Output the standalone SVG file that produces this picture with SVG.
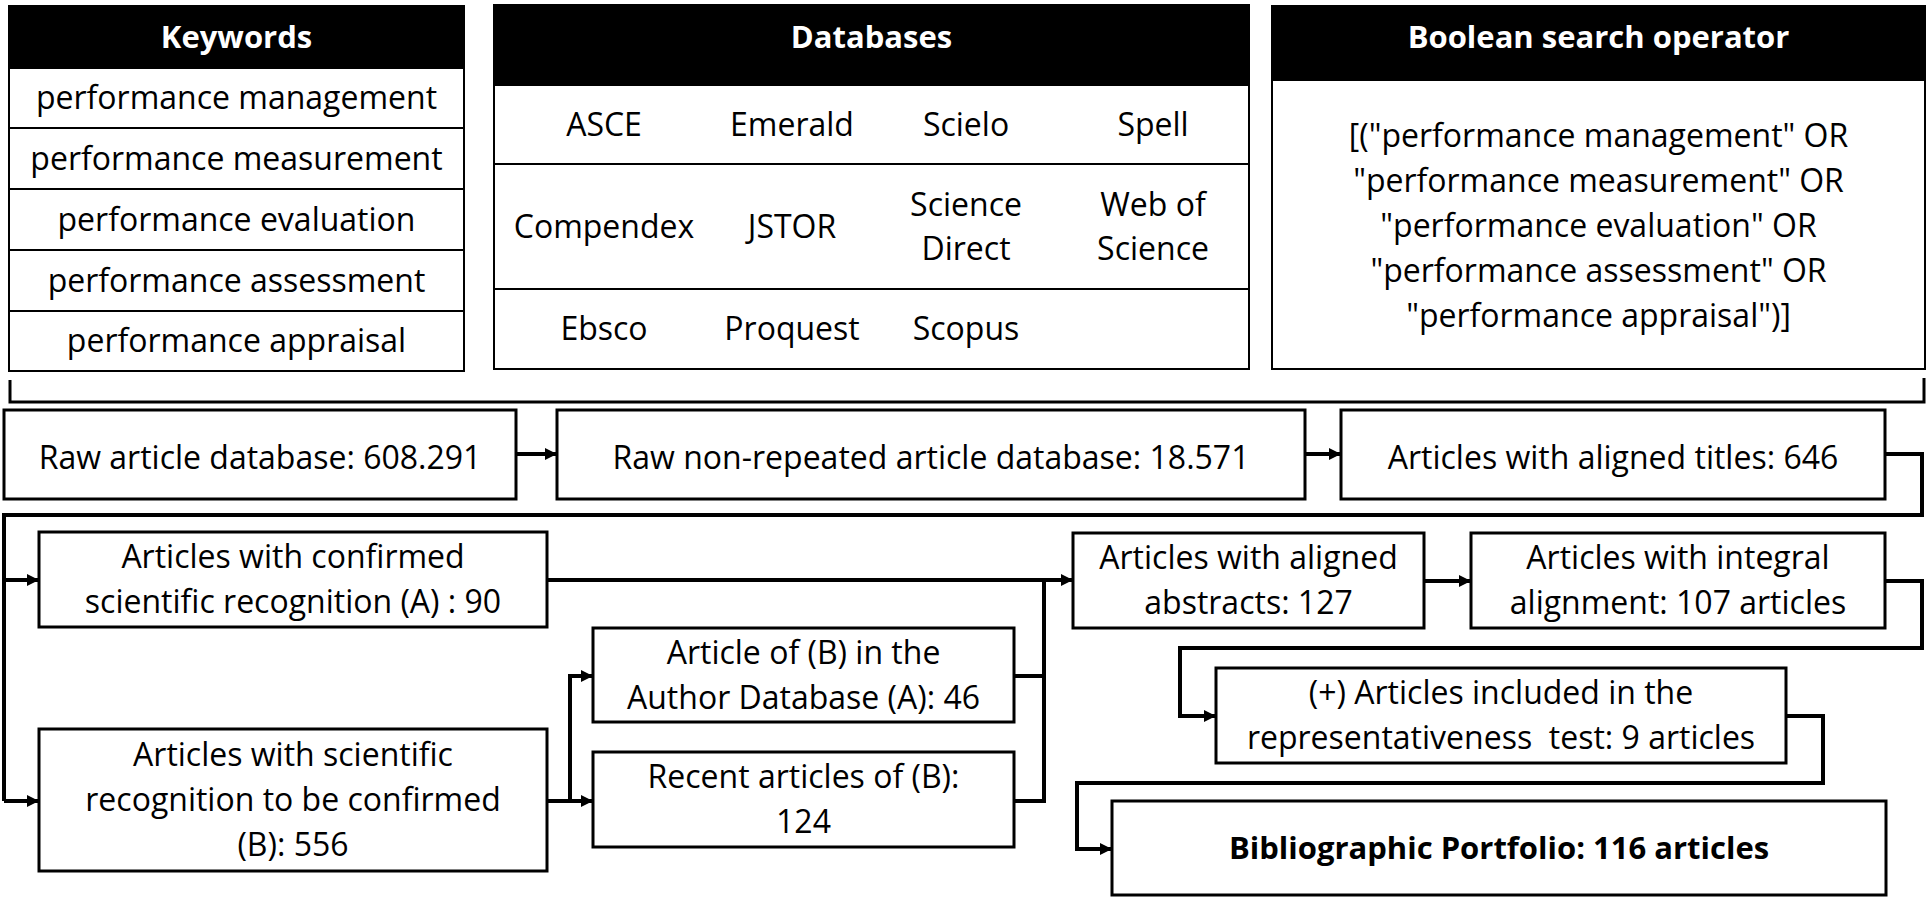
<svg xmlns="http://www.w3.org/2000/svg" width="1928" height="897" viewBox="0 0 1928 897">
<style>
  text { font-family: "Open Sans", "Liberation Sans", sans-serif; font-size: 32px; fill: #000; text-anchor: middle; }
  .hd { font-weight: bold; fill: #fff; font-size: 31px; }
  .bold { font-weight: bold; font-size: 31px; }
  .tbl { fill: #fff; stroke: #000; stroke-width: 2; }
  .hdr { fill: #000; stroke: #000; stroke-width: 2; }
  .sep { stroke: #000; stroke-width: 2; fill: none; }
  .box { fill: #fff; stroke: #000; stroke-width: 3; }
  .con { fill: none; stroke: #000; stroke-width: 4; }
  .arr { fill: none; stroke: #000; stroke-width: 4; marker-end: url(#ah); }
</style>
<defs>
  <marker id="ah" markerUnits="userSpaceOnUse" markerWidth="14" markerHeight="14" refX="12" refY="7" orient="auto">
    <path d="M0,1 L12,7 L0,13 Z" fill="#000"/>
  </marker>
</defs>
<rect width="1928" height="897" fill="#fff"/>

<g id="keywords">
  <rect class="tbl" x="9" y="6" width="455" height="365"/>
  <rect class="hdr" x="9" y="6" width="455" height="62"/>
  <text class="hd" x="236.5" y="48">Keywords</text>
  <path class="sep" d="M9,128 H464 M9,189 H464 M9,250 H464 M9,311 H464"/>
  <text x="236.5" y="109">performance management</text>
  <text x="236.5" y="170">performance measurement</text>
  <text x="236.5" y="231">performance evaluation</text>
  <text x="236.5" y="292">performance assessment</text>
  <text x="236.5" y="352">performance appraisal</text>
</g>

<g id="databases">
  <rect class="tbl" x="494" y="5" width="755" height="364"/>
  <rect class="hdr" x="494" y="5" width="755" height="80"/>
  <text class="hd" x="871.5" y="48">Databases</text>
  <path class="sep" d="M494,164 H1249 M494,289 H1249"/>
  <text x="604" y="136">ASCE</text>
  <text x="792" y="136">Emerald</text>
  <text x="966" y="136">Scielo</text>
  <text x="1153" y="136">Spell</text>
  <text x="604" y="238">Compendex</text>
  <text x="792" y="238">JSTOR</text>
  <text x="966" y="216">Science</text>
  <text x="966" y="260">Direct</text>
  <text x="1153" y="216">Web of</text>
  <text x="1153" y="260">Science</text>
  <text x="604" y="340">Ebsco</text>
  <text x="792" y="340">Proquest</text>
  <text x="966" y="340">Scopus</text>
</g>

<g id="boolean">
  <rect class="tbl" x="1272" y="6" width="653" height="363"/>
  <rect class="hdr" x="1272" y="6" width="653" height="74"/>
  <text class="hd" x="1598.5" y="48">Boolean search operator</text>
  <text x="1598.5" y="147">[("performance management" OR</text>
  <text x="1598.5" y="192">"performance measurement" OR</text>
  <text x="1598.5" y="237">"performance evaluation" OR</text>
  <text x="1598.5" y="282">"performance assessment" OR</text>
  <text x="1598.5" y="327">"performance appraisal")]</text>
</g>

<g id="bracket">
  <path d="M10,380 V402 H1924 V378" fill="none" stroke="#000" stroke-width="3"/>
</g>

<g id="raw">
  <rect class="box" x="4" y="410" width="512" height="89"/>
  <text x="260" y="469">Raw article database: 608.291</text>
</g>
<g id="nonrepeated">
  <rect class="box" x="557" y="410" width="748" height="89"/>
  <text x="931" y="469">Raw non-repeated article database: 18.571</text>
</g>
<g id="titles">
  <rect class="box" x="1341" y="410" width="544" height="89"/>
  <text x="1613" y="469">Articles with aligned titles: 646</text>
</g>

<g id="nodeA">
  <rect class="box" x="39" y="532" width="508" height="95"/>
  <text x="293" y="568">Articles with confirmed</text>
  <text x="293" y="613">scientific recognition (A) : 90</text>
</g>
<g id="nodeB">
  <rect class="box" x="39" y="729" width="508" height="142"/>
  <text x="293" y="766">Articles with scientific</text>
  <text x="293" y="811">recognition to be confirmed</text>
  <text x="293" y="856">(B): 556</text>
</g>
<g id="nodeC">
  <rect class="box" x="593" y="628" width="421" height="94"/>
  <text x="803.5" y="664">Article of (B) in the</text>
  <text x="803.5" y="709">Author Database (A): 46</text>
</g>
<g id="nodeD">
  <rect class="box" x="593" y="752" width="421" height="95"/>
  <text x="803.5" y="788">Recent articles of (B):</text>
  <text x="803.5" y="833">124</text>
</g>
<g id="abstracts">
  <rect class="box" x="1073" y="533" width="351" height="95"/>
  <text x="1248.5" y="569">Articles with aligned</text>
  <text x="1248.5" y="614">abstracts: 127</text>
</g>
<g id="integral">
  <rect class="box" x="1471" y="533" width="414" height="95"/>
  <text x="1678" y="569">Articles with integral</text>
  <text x="1678" y="614">alignment: 107 articles</text>
</g>
<g id="included">
  <rect class="box" x="1216" y="668" width="570" height="95"/>
  <text x="1501" y="704">(+) Articles included in the</text>
  <text x="1501" y="749" style="white-space:pre">representativeness  test: 9 articles</text>
</g>
<g id="portfolio">
  <rect class="box" x="1112" y="801" width="774" height="94"/>
  <text class="bold" x="1499" y="859">Bibliographic Portfolio: 116 articles</text>
</g>

<g id="connectors">
  <path class="arr" d="M516,454 H557"/>
  <path class="arr" d="M1305,454 H1341"/>
  <path class="con" d="M1885,454 H1922 V515 H4 V801"/>
  <path class="arr" d="M4,580 H39"/>
  <path class="arr" d="M4,801 H39"/>
  <path class="arr" d="M547,580 H1073"/>
  <path class="con" d="M547,801 H570"/>
  <path class="con" d="M570,674 V803"/>
  <path class="arr" d="M570,676 H593"/>
  <path class="arr" d="M570,801 H593"/>
  <path class="con" d="M1014,676 H1044 M1014,801 H1044 M1044,578 V803"/>
  <path class="arr" d="M1424,581 H1471"/>
  <path class="arr" d="M1885,581 H1922 V648 H1180 V716 H1216"/>
  <path class="arr" d="M1786,716 H1823 V783 H1077 V849 H1112"/>
</g>
</svg>
